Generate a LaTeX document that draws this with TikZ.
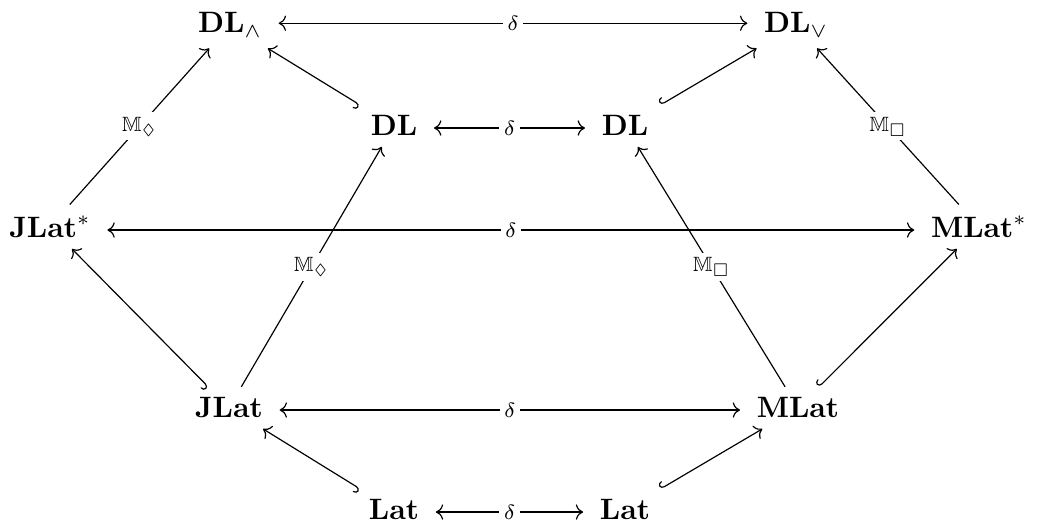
\documentclass[tikz,border=0pt]{standalone}
\usepackage{amssymb}
\usetikzlibrary{cd}
\begin{document}
\begin{tikzpicture}[x=0.339pt,y=-0.339pt,
  obj/.style={anchor=base,inner xsep=5.5pt,inner ysep=3.5pt},
  lab/.style={fill=white,inner sep=1.5pt,anchor=center},
  dbl/.style={draw,line width=0.4pt,tikzcd to-tikzcd to},
  plain/.style={draw,line width=0.4pt,-tikzcd to},
  hk/.style={draw,line width=0.4pt,tikzcd right hook-tikzcd to}]
\useasboundingbox (0,0) rectangle (1043,524);
\node[obj] (dlw) at (230,33) {$\mathbf{DL}_\wedge$};
\node[obj] (dlv) at (796,33) {$\mathbf{DL}_\vee$};
\node[obj] (dll) at (394,136) {$\mathbf{DL}$};
\node[obj] (dlr) at (625,136) {$\mathbf{DL}$};
\node[obj] (jls) at (50,238) {$\mathbf{JLat}^*$};
\node[obj] (mls) at (979,238) {$\mathbf{MLat}^*$};
\node[obj] (jl) at (229,418) {$\mathbf{JLat}$};
\node[obj] (ml) at (798,418) {$\mathbf{MLat}$};
\node[obj] (ll) at (394,520) {$\mathbf{Lat}$};
\node[obj] (lr) at (625,520) {$\mathbf{Lat}$};
\coordinate (t1) at ([yshift=3.3pt]dlw.base east);
\path[dbl] (t1) -- node[lab] (d1) {$\scriptstyle\delta$} (t1 -| dlv.west);
\coordinate (t2) at ([yshift=2.7pt]dll.base east);
\path[dbl] (t2) -- node[lab] (d2) {$\scriptstyle\delta$} (t2 -| dlr.west);
\coordinate (t3) at ([yshift=2.7pt]jls.base east);
\path[dbl] (t3) -- node[lab] (d3) {$\scriptstyle\delta$} (t3 -| mls.west);
\coordinate (t4) at ([yshift=2.7pt]jl.base east);
\path[dbl] (t4) -- node[lab] (d4) {$\scriptstyle\delta$} (t4 -| ml.west);
\coordinate (t5) at ([yshift=2.7pt]ll.base east);
\path[dbl] (t5) -- node[lab] (d5) {$\scriptstyle\delta$} (t5 -| lr.west);
\path[plain] (jls) -- node[lab] (m1) {$\scriptstyle\mathbb{M}_{\Diamond}$} (dlw);
\path[plain] (mls) -- node[lab] (m2) {$\scriptstyle\mathbb{M}_{\Box}$} (dlv);
\path[plain] (jl) -- node[lab] (m3) {$\scriptstyle\mathbb{M}_{\Diamond}$} (dll);
\path[plain] (ml) -- node[lab] (m4) {$\scriptstyle\mathbb{M}_{\Box}$} (dlr);
\path[hk] (dll) -- (dlw);
\path[hk] (dlr) -- (dlv);
\path[hk] (jl) -- (jls);
\path[hk] (ml) -- (mls);
\path[hk] (ll) -- (jl);
\path[hk] (lr) -- (ml);
\end{tikzpicture}
\end{document}
